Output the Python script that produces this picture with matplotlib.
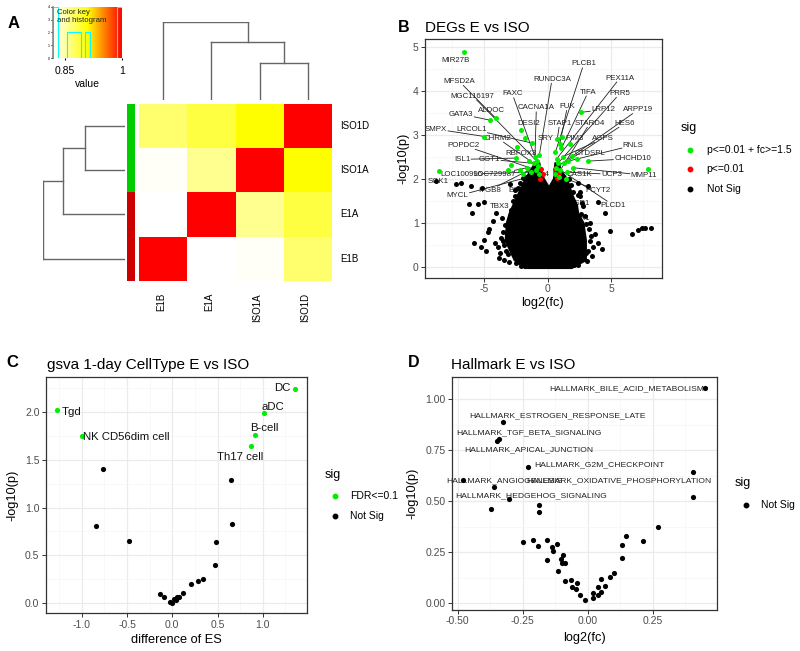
import numpy as np
import matplotlib
matplotlib.use('Agg')
import matplotlib.pyplot as plt
from matplotlib.colors import LinearSegmentedColormap
from matplotlib.lines import Line2D

plt.rcParams['font.family'] = ['Liberation Sans', 'DejaVu Sans']

# ---------------- data ----------------
# A: sample correlation heatmap (order left->right / bottom->top)
samples = ['E1B', 'E1A', 'ISO1A', 'ISO1D']
corr = np.array([[1.000, 0.820, 0.823, 0.872],
                 [0.820, 1.000, 0.860, 0.887],
                 [0.823, 0.860, 1.000, 0.910],
                 [0.872, 0.887, 0.910, 1.000]])
group_colors = ['#cd0000', '#cd0000', '#00cd00', '#00cd00']
merges = [(2, 3), (1, 4), (0, 5)]
merge_heights = [0.48, 0.75, 1.0]

# B: volcano DEGs
green_x = [-6.6, -4.51, -4.09, -4.96, -1.81, -2.07, -2.39, -2.47, -2.86, -3.13, -8.5, -1.21,
           -1.0, -0.85, -0.75, -1.1, -0.65, -0.9, -1.3, -1.6, -1.9, -0.7, -1.45, -2.2,
           2.65, 0.94, 1.08, 1.73, 1.94, 2.3, 3.17, 7.85, 0.6, 0.7, 0.8, 0.65, 1.0, 1.3,
           1.5, 0.9, 1.2, 1.6, 0.55, 2.0, 1.4, 0.75, 1.1]
green_y = [4.89, 3.33, 3.38, 2.96, 2.93, 3.11, 2.72, 2.47, 2.32, 2.19, 2.17, 2.81,
           2.5, 2.4, 2.3, 2.35, 2.55, 2.2, 2.15, 2.25, 2.1, 2.1, 2.4, 2.2,
           3.51, 2.78, 2.69, 2.78, 2.51, 2.45, 2.40, 2.21, 2.6, 2.45, 2.35, 2.25, 2.2, 2.35,
           2.15, 2.05, 2.5, 2.4, 2.1, 2.25, 2.0, 2.9, 2.95]
red_x = [-0.76, -0.37, 0.87, 0.73, -0.5, 0.6, -0.6]
red_y = [2.25, 2.1, 2.14, 2.02, 2.21, 2.21, 2.0]
black_x = [-8.76, -7.19, -6.8, -6.0, -6.19, -5.49, -4.96, -5.93, -5.14, -4.57, -4.70, -5.75,
           -4.96, -5.22, -4.83, -3.91, -3.78, -3.25, -3.52, -2.47, -1.94, -4.31, -4.04, -2.99,
           -1.94, 3.17, 3.96, 4.49, 4.88, 6.59, 7.11, 7.38, 7.64, 8.08, 3.96, 4.23, 3.57, 3.31,
           2.78, 2.65, 3.04, 2.52, 3.04, 2.26, 2.39, -3.5, -3.6, 3.3, 3.4, -2.6, 2.5, -2.3,
           1.8, 2.0, -3.8, -3.4, 3.5,
           -3.45, -3.7, -3.35, -2.9, -3.1, -2.75, -2.55, 3.2, 3.25, 2.95, 2.7, 2.55, 2.35,
           -2.2, -2.5, 2.1, -1.7, 1.65, -3.0, 3.1, -4.1, 3.7, -2.1, 2.4]
black_y = [1.95, 1.87, 1.91, 1.83, 1.42, 1.42, 1.46, 1.21, 1.80, 0.85, 0.78, 0.53,
           0.61, 0.44, 0.36, 0.45, 0.32, 0.36, 0.59, 0.21, 0.25, 1.04, 1.23, 1.87,
           2.02, 1.83, 1.46, 1.23, 0.81, 0.74, 0.83, 0.87, 0.89, 0.87, 0.55, 0.40, 0.44, 0.59,
           1.38, 1.19, 0.97, 0.81, 0.32, 0.25, 1.64, 0.8, 1.1, 1.0, 0.7, 1.6, 1.6, 1.8,
           1.85, 1.7, 0.2, 0.15, 0.25,
           0.5, 0.65, 0.95, 1.3, 0.3, 1.5, 1.75, 0.35, 0.85, 1.15, 1.45, 1.7, 1.9,
           1.9, 0.08, 0.05, 2.05, 2.0, 0.1, 0.12, 0.55, 0.75, 0.02, 0.03]
# envelope of the dense "Not Sig" cloud
core_y = [-0.03, 0.15, 0.4, 0.6, 1.0, 1.2, 1.4, 1.65, 1.85, 2.0, 2.2, 2.35]
core_left = [-1.8, -2.6, -3.0, -3.3, -3.2, -3.0, -2.7, -2.3, -2.0, -1.7, -1.3, -1.0]
core_right = [1.9, 3.0, 3.0, 3.0, 2.8, 2.4, 2.3, 1.9, 1.7, 1.5, 1.0, 0.9]
gap_y = [1.8, 2.0, 2.2, 2.35]
gap_left = [0.1, -0.3, -0.55, -0.65]
gap_right = [0.1, 0.5, 0.55, 0.6]

lab_names = ['MIR27B', 'MFSD2A', 'MGC116197', 'FAXC', 'GATA3', 'ALDOC', 'CACNA1A', 'RUNDC3A',
             'FUK', 'PLCB1', 'PEX11A', 'TIFA', 'PRR5', 'LRP12', 'ARPP19', 'DESI2', 'STAP1',
             'STARD4', 'HES6', 'SMPX', 'LRCOL1', 'CHRM2', 'SRY', 'PIM3', 'AGPS', 'RNLS',
             'POPDC2', 'RBFOX3', 'CTDSPL', 'CHCHD10', 'ISL1', 'GGT1', 'LOC100996', 'LOC729987',
             'SGK1', 'MYCL', 'ITGB8', 'UCP3', 'MMP11', 'CAS1K', 'PCYT2', 'PLCD1', 'ZNF14',
             'BCL6', 'TBX3', 'DUSP1', 'TAAR1']
lab_x = [-7.27, -6.93, -5.88, -2.78, -6.8, -4.43, -0.89, 0.34, 1.55, 2.83, 5.67, 3.18, 5.67,
         4.36, 7.11, -1.52, 0.94, 3.31, 6.06, -8.77, -6.0, -3.91, -0.16, 2.13, 4.36, 6.72,
         -6.61, -2.07, 3.31, 6.67, -6.72, -4.57, -6.8, -4.17, -8.56, -7.06, -4.57, 5.01, 7.56,
         2.52, 3.96, 5.14, -0.75, -2.34, -3.78, 2.28, 2.36]
lab_y = [4.68, 4.21, 3.88, 3.93, 3.47, 3.54, 3.61, 4.26, 3.64, 4.61, 4.29, 3.97, 3.94,
         3.57, 3.57, 3.26, 3.26, 3.26, 3.26, 3.13, 3.13, 2.92, 2.92, 2.92, 2.92, 2.76,
         2.76, 2.58, 2.58, 2.46, 2.44, 2.44, 2.1, 2.1, 1.93, 1.61, 1.74, 2.1, 2.08,
         2.1, 1.74, 1.40, 2.1, 1.74, 1.38, 1.43, 1.09]
lab_target = [-1, 2, 13, 14, 1, -1, 12, 16, 25, 32, 33, 26, 34, 24, 35, 5, 45, 36, 37, 3, 11,
              15, 11, 46, 40, 41, 17, 12, 28, 30, 7, 15, 18, 19, -1, 21, 14, 38, 43, 39, 44,
              36, -1, -1, -1, -1, -1]
b_legend = ['p<=0.01 + fc>=1.5', 'p<=0.01', 'Not Sig']

# C: gsva cell types
c_sig_names = ['DC', 'aDC', 'B-cell', 'Th17 cell', 'Tgd', 'NK CD56dim cell']
c_sig_x = [1.358, 1.018, 0.915, 0.867, -1.27, -0.993]
c_sig_y = [2.24, 1.983, 1.753, 1.645, 2.017, 1.746]
c_lab_x = [1.303, 1.111, 1.018, 0.749, -1.225, -0.985]
c_lab_y = [2.243, 2.052, 1.826, 1.530, 2.0, 1.732]
c_ns_x = [-0.764, -0.845, -0.483, 0.649, 0.661, 0.480, 0.472, 0.336, 0.288, 0.203, 0.118,
          0.048, 0.018, -0.026, -0.004, -0.089, -0.133, 0.074, 0.04]
c_ns_y = [1.405, 0.810, 0.650, 1.290, 0.828, 0.640, 0.400, 0.257, 0.233, 0.205, 0.111,
          0.070, 0.042, 0.017, 0.007, 0.070, 0.094, 0.07, 0.035]
c_legend = ['FDR<=0.1', 'Not Sig']

# D: hallmark
d_x = [0.451, -0.327, -0.35, -0.341, -0.2296, -0.478, -0.362, -0.3015, 0.406, 0.406, -0.372,
       -0.186, -0.186, -0.249, -0.209, -0.190, -0.158, -0.139, -0.119, -0.133, -0.157, -0.094,
       -0.102, -0.097, -0.088, -0.113, -0.087, -0.065, -0.042, -0.059, -0.046, -0.029, -0.012,
       0.019, 0.021, 0.039, 0.041, 0.051, 0.051, 0.066, 0.085, 0.102, 0.130, 0.130, 0.149,
       0.211, 0.272]
d_y = [1.056, 0.889, 0.796, 0.806, 0.670, 0.605, 0.572, 0.510, 0.645, 0.521, 0.461,
       0.480, 0.448, 0.299, 0.310, 0.281, 0.309, 0.278, 0.289, 0.257, 0.212, 0.237,
       0.216, 0.199, 0.196, 0.158, 0.109, 0.113, 0.098, 0.082, 0.069, 0.041, 0.016,
       0.025, 0.049, 0.039, 0.078, 0.056, 0.121, 0.087, 0.131, 0.147, 0.224, 0.284, 0.330,
       0.304, 0.376]
d_lab_names = ['HALLMARK_BILE_ACID_METABOLISM', 'HALLMARK_ESTROGEN_RESPONSE_LATE',
               'HALLMARK_TGF_BETA_SIGNALING', 'HALLMARK_APICAL_JUNCTION',
               'HALLMARK_G2M_CHECKPOINT', 'HALLMARK_ANGIOGENESIS',
               'HALLMARK_OXIDATIVE_PHOSPHORYLATION', 'HALLMARK_HEDGEHOG_SIGNALING']
d_lab_x = [0.150, -0.117, -0.226, -0.226, 0.045, -0.321, 0.118, -0.219]
d_lab_y = [1.052, 0.917, 0.837, 0.755, 0.680, 0.603, 0.601, 0.529]

# ---------------- figure ----------------
W, H = 800, 651
fig = plt.figure(figsize=(W / 100, H / 100), dpi=100)


def add_ax(l, t, r, b):
    return fig.add_axes([l / W, 1 - b / H, (r - l) / W, (b - t) / H])


def ftext(x, y, s, **kw):
    return fig.text(x / W, 1 - y / H, s, **kw)


def style_bw(ax, xmaj, xmin_, xlabels, ymaj, ymin_, ylabels):
    ax.set_xticks(xmaj)
    ax.set_xticklabels(xlabels)
    ax.set_xticks(xmin_, minor=True)
    ax.set_yticks(ymaj)
    ax.set_yticklabels(ylabels)
    ax.set_yticks(ymin_, minor=True)
    ax.grid(which='major', color='#ebebeb', lw=0.9)
    ax.grid(which='minor', color='#f5f5f5', lw=0.5)
    ax.set_axisbelow(True)
    for sp in ax.spines.values():
        sp.set_color('#333333')
        sp.set_linewidth(0.9)
    ax.tick_params(which='major', length=3, width=0.7, color='#333333',
                   labelcolor='#4d4d4d', labelsize=7.5, pad=1.5)
    ax.tick_params(which='minor', length=0)


def legend(xt, yt, xd, xl, ys, labels, colors):
    ftext(xt, yt, 'sig', fontsize=9, va='center', ha='left')
    for y, lab, c in zip(ys, labels, colors):
        fig.add_artist(Line2D([xd / W], [1 - y / H], marker='o', color=c, markersize=3.2,
                              linestyle='none', transform=fig.transFigure))
        ftext(xl, y, lab, fontsize=7.5, va='center')


def dendro_segments(n):
    pos = {i: i + 0.5 for i in range(n)}
    hgt = {i: 0.0 for i in range(n)}
    segs = []
    for k, (a, b) in enumerate(merges):
        hh = merge_heights[k]
        segs.append(((pos[a], hgt[a]), (pos[a], hh)))
        segs.append(((pos[b], hgt[b]), (pos[b], hh)))
        segs.append(((pos[a], hh), (pos[b], hh)))
        pos[n + k] = (pos[a] + pos[b]) / 2
        hgt[n + k] = hh
    return segs


# ---------- A ----------
ftext(8, 28, 'A', fontsize=12, fontweight='bold')
vmin, vmax = corr.min(), corr.max()
cmap = LinearSegmentedColormap.from_list('wyr', ['white', 'yellow', 'red'])

hm = add_ax(139.3, 104, 331.7, 280.7)
hm.pcolormesh(corr, cmap=cmap, vmin=vmin, vmax=vmax)
hm.set_xlim(0, 4)
hm.set_ylim(0, 4)
hm.axis('off')
for i, s in enumerate(samples):
    hm.text(4.17, i + 0.5, s, fontsize=7, va='center', ha='left')
    hm.text(i + 0.45, -0.28, s, fontsize=7, va='top', ha='center', rotation=90)

side = add_ax(127.3, 104, 135, 280.7)
side.barh(np.arange(len(samples)), 1, height=1, color=group_colors, align='edge')
side.set_xlim(0, 1)
side.set_ylim(0, 4)
side.axis('off')

segs = dendro_segments(len(samples))
cd = add_ax(139.3, 22, 331.7, 100)
for (x0, y0), (x1, y1) in segs:
    cd.plot([x0, x1], [y0, y1], color='#666666', lw=1)
cd.set_xlim(0, 4)
cd.set_ylim(0, 1.0)
cd.axis('off')

rd = add_ax(42.7, 104, 125, 280.7)
for (x0, y0), (x1, y1) in segs:
    rd.plot([-y0, -y1], [x0, x1], color='#666666', lw=1)
rd.set_xlim(-1.0, 0)
rd.set_ylim(0, 4)
rd.axis('off')

key = add_ax(53.3, 6.7, 121.7, 58.3)
grad = np.linspace(vmin, vmax, 256)[None, :]
key.imshow(grad, cmap=cmap, vmin=vmin, vmax=vmax, aspect='auto',
           extent=[vmin, vmax, 0, 4])
key.hist(corr.ravel(), bins=np.linspace(vmin, vmax, 16), histtype='step',
         color='#00ffff', lw=0.8)
key.set_xlim(vmin, vmax)
key.set_ylim(0, 4)
key.set_xticks([0.85, 1.0])
key.set_xticklabels(['0.85', '1'])
key.set_yticks([0, 1, 2, 3, 4])
key.tick_params(axis='x', labelsize=7.5, length=1.5, pad=4)
key.tick_params(axis='y', labelsize=2.5, length=1.5, pad=1)
for sp in ['top', 'right', 'bottom']:
    key.spines[sp].set_visible(False)
key.spines['left'].set_color('#888888')
key.spines['left'].set_linewidth(1.2)
key.set_xlabel('value', fontsize=7.5, labelpad=2)
key.text(0.05, 0.95, 'Color key\nand histogram', transform=key.transAxes, fontsize=5.6,
         va='top', ha='left', color='#222222', linespacing=1.1)

# ---------- B ----------
axb = add_ax(425, 39.3, 661.7, 277.7)
axb.set_xlim(-9.63, 8.95)
axb.set_ylim(-0.25, 5.17)
style_bw(axb, [-5, 0, 5], [-7.5, -2.5, 2.5, 7.5], ['-5', '0', '5'],
         [0, 1, 2, 3, 4, 5], [0.5, 1.5, 2.5, 3.5, 4.5], ['0', '1', '2', '3', '4', '5'])

texts = []
for name, x, y in zip(lab_names, lab_x, lab_y):
    texts.append(axb.text(x, y, name, fontsize=5.7, ha='center', va='center',
                          color='#222222', zorder=2))
poly_x = core_left + gap_left[::-1] + gap_right[1:] + core_right[::-1]
poly_y = core_y + gap_y[::-1] + gap_y[1:] + core_y[::-1]
axb.fill(poly_x, poly_y, facecolor='black', edgecolor='black', lw=1.5, zorder=3)
axb.scatter(black_x, black_y, s=13, color='black', lw=0, zorder=3)
axb.scatter(red_x, red_y, s=13, color='#ff0000', lw=0, zorder=4)
axb.scatter(green_x, green_y, s=13, color='#00ee00', lw=0, zorder=5)

fig.canvas.draw()
renderer = fig.canvas.get_renderer()
for txt, ti in zip(texts, lab_target):
    if ti < 0:
        continue
    tx, ty = green_x[ti], green_y[ti]
    bb = txt.get_window_extent(renderer)
    px, py = axb.transData.transform((tx, ty))
    cx, cy = (bb.x0 + bb.x1) / 2, (bb.y0 + bb.y1) / 2
    dx, dy = px - cx, py - cy
    hw, hh = bb.width / 2 + 1, bb.height / 2 + 0.5
    if abs(dx) <= hw and abs(dy) <= hh:
        continue
    t = min(hw / abs(dx) if dx else np.inf, hh / abs(dy) if dy else np.inf)
    sx, sy = cx + t * dx, cy + t * dy
    if np.hypot(px - sx, py - sy) < 5:
        continue
    x0, y0 = axb.transData.inverted().transform((sx, sy))
    axb.plot([x0, tx], [y0, ty], color='#222222', lw=0.6, zorder=2)

ftext(398, 32, 'B', fontsize=11.5, fontweight='bold')
ftext(425, 32, 'DEGs E vs ISO', fontsize=11)
ftext(543, 303, 'log2(fc)', fontsize=9.2, ha='center', va='center')
ftext(403, 158, '-log10(p)', fontsize=9.2, ha='center', va='center', rotation=90)
legend(681, 128, 690, 706.7, [150, 169.3, 189.3], b_legend, ['#00ee00', '#ff0000', 'black'])

# ---------- C ----------
axc = add_ax(45.7, 376.7, 306.7, 613.3)
axc.set_xlim(-1.399, 1.485)
axc.set_ylim(-0.104, 2.365)
style_bw(axc, [-1, -0.5, 0, 0.5, 1.0], [-1.25, -0.75, -0.25, 0.25, 0.75, 1.25],
         ['-1.0', '-0.5', '0.0', '0.5', '1.0'],
         [0, 0.5, 1.0, 1.5, 2.0], [0.25, 0.75, 1.25, 1.75, 2.25],
         ['0.0', '0.5', '1.0', '1.5', '2.0'])
axc.scatter(c_ns_x, c_ns_y, s=14, color='black', lw=0, zorder=3)
axc.scatter(c_sig_x, c_sig_y, s=14, color='#00ee00', lw=0, zorder=3)
c_ha = ['right', 'center', 'center', 'center', 'left', 'left']
for name, x, y, ha in zip(c_sig_names, c_lab_x, c_lab_y, c_ha):
    axc.text(x, y, name, fontsize=8.2, ha=ha, va='center', color='#111111', zorder=4)
ftext(6, 367, 'C', fontsize=12, fontweight='bold')
ftext(46.7, 369, 'gsva 1-day CellType E vs ISO', fontsize=11)
ftext(176, 640, 'difference of ES', fontsize=9.2, ha='center', va='center')
ftext(12, 495, '-log10(p)', fontsize=9.2, ha='center', va='center', rotation=90)
legend(325, 475, 335, 350, [496, 516], c_legend, ['#00ee00', 'black'])

# ---------- D ----------
axd = add_ax(451.7, 376.7, 716.7, 610)
axd.set_xlim(-0.523, 0.496)
axd.set_ylim(-0.033, 1.111)
style_bw(axd, [-0.5, -0.25, 0, 0.25], [-0.375, -0.125, 0.125, 0.375],
         ['-0.50', '-0.25', '0.00', '0.25'],
         [0, 0.25, 0.5, 0.75, 1.0], [0.125, 0.375, 0.625, 0.875],
         ['0.00', '0.25', '0.50', '0.75', '1.00'])
for name, x, y in zip(d_lab_names, d_lab_x, d_lab_y):
    axd.text(x, y, name, fontsize=6.1, ha='center', va='center', color='#222222', zorder=2)
axd.scatter(d_x, d_y, s=14, color='black', lw=0, zorder=3)
ftext(408, 367, 'D', fontsize=11.5, fontweight='bold')
ftext(450.7, 369, 'Hallmark E vs ISO', fontsize=11)
ftext(584, 638, 'log2(fc)', fontsize=9.2, ha='center', va='center')
ftext(412, 493, '-log10(p)', fontsize=9.2, ha='center', va='center', rotation=90)
legend(735, 483.3, 745.7, 761, [505], ['Not Sig'], ['black'])

fig.savefig('out.png', dpi=100)
